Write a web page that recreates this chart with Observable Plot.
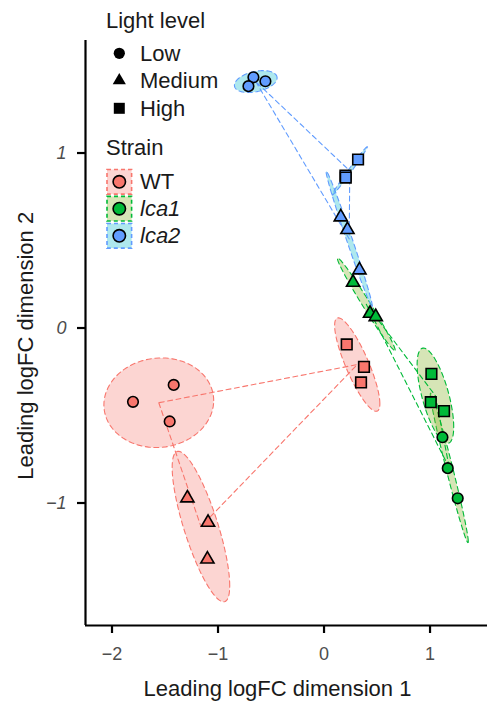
<!DOCTYPE html>
<html><head><meta charset="utf-8">
<script src="https://cdn.jsdelivr.net/npm/d3@7"></script>
<script src="https://cdn.jsdelivr.net/npm/@observablehq/plot@0.6"></script>
<style>
body{margin:0;background:#fff;}
#wrap{position:relative;width:487px;height:703px;font-family:"Liberation Sans",Arial,sans-serif;}
#wrap svg{position:absolute;left:0;top:0;}
</style></head><body><div id="wrap"></div>
<script>
// ---- data ----
const strains = ["WT", "lca1", "lca2"];
const lightLevels = ["Low", "Medium", "High"];
const sampleStrain = ["WT","WT","WT","WT","WT","WT","WT","WT","WT",
  "lca1","lca1","lca1","lca1","lca1","lca1","lca1","lca1","lca1",
  "lca2","lca2","lca2","lca2","lca2","lca2","lca2","lca2","lca2"];
const sampleLight = ["Low","Low","Low","Medium","Medium","Medium","High","High","High",
  "Low","Low","Low","Medium","Medium","Medium","High","High","High",
  "Low","Low","Low","Medium","Medium","Medium","High","High","High"];
const dim1 = [-1.802, -1.418, -1.456, -1.289, -1.094, -1.100, 0.214, 0.377, 0.349,
  1.117, 1.167, 1.261, 0.274, 0.434, 0.488, 1.013, 1.007, 1.132,
  -0.666, -0.553, -0.713, 0.158, 0.221, 0.334, 0.321, 0.202, 0.205];
const dim2 = [-0.422, -0.325, -0.534, -0.972, -1.111, -1.321, -0.094, -0.222, -0.311,
  -0.624, -0.801, -0.973, 0.260, 0.083, 0.064, -0.262, -0.424, -0.475,
  1.433, 1.410, 1.382, 0.634, 0.562, 0.331, 0.963, 0.871, 0.860];
const xTicks = [-2, -1, 0, 1];
const yTicks = [-1, 0, 1];
const xDomain = [-2.25, 1.542];
const yDomain = [-1.70, 1.643];
const xTitle = "Leading logFC dimension 1";
const yTitle = "Leading logFC dimension 2";
const lightTitle = "Light level";
const strainTitle = "Strain";

// ---- styles ----
const pointColor = {WT: "#F8766D", lca1: "#00BA38", lca2: "#619CFF"};
const ellipseFill = {WT: "#f5877f", lca1: "#8ab52e", lca2: "#18bdce"};
const ellipseOpacity = 0.35;
const shapeOf = {Low: "circle", Medium: "triangle", High: "square"};
const radiusOf = {Low: 5.3, Medium: 4.9, High: 6.0};

// ---- derived ----
const samples = dim1.map((x, i) => ({x, y: dim2[i], strain: sampleStrain[i], light: sampleLight[i]}));
const groups = [];
for (const s of strains) for (const l of lightLevels) {
  groups.push({strain: s, light: l, pts: samples.filter(d => d.strain === s && d.light === l)});
}
const kScale = Math.sqrt(-2 * Math.log(0.05)); // 95% normal ellipse (chi-square, 2 df)
const ellipseRows = [];
const centroids = [];
for (const g of groups) {
  const n = g.pts.length;
  const mx = d3.mean(g.pts, d => d.x), my = d3.mean(g.pts, d => d.y);
  centroids.push({strain: g.strain, light: g.light, x: mx, y: my});
  let sxx = 0, syy = 0, sxy = 0;
  for (const p of g.pts) { sxx += (p.x - mx) ** 2; syy += (p.y - my) ** 2; sxy += (p.x - mx) * (p.y - my); }
  sxx /= (n - 1); syy /= (n - 1); sxy /= (n - 1);
  const a = Math.sqrt(sxx), b = sxy / a, c = Math.sqrt(Math.max(syy - b * b, 0));
  for (let i = 0; i < 100; i++) {
    const t = 2 * Math.PI * i / 100, u = Math.cos(t), v = Math.sin(t);
    ellipseRows.push({strain: g.strain, group: g.strain + "-" + g.light,
      x: mx + kScale * a * u, y: my + kScale * (b * u + c * v)});
  }
}

const marks = [];
for (const s of strains) {
  marks.push(Plot.line(ellipseRows.filter(d => d.strain === s), {
    x: "x", y: "y", z: "group", curve: "linear-closed",
    fill: ellipseFill[s], fillOpacity: ellipseOpacity,
    stroke: pointColor[s], strokeWidth: 1.1, strokeDasharray: "5,3.5"
  }));
}
for (const s of strains) {
  marks.push(Plot.line(centroids.filter(d => d.strain === s), {
    x: "x", y: "y", curve: "linear-closed",
    stroke: pointColor[s], strokeWidth: 1.1, strokeDasharray: "5,3.5"
  }));
}
for (const l of lightLevels) {
  marks.push(Plot.dot(samples.filter(d => d.light === l), {
    x: "x", y: "y", symbol: shapeOf[l], r: radiusOf[l],
    fill: d => pointColor[d.strain], stroke: "black", strokeWidth: 1.6
  }));
}
marks.push(Plot.ruleX([xDomain[0]], {stroke: "black", strokeWidth: 2.2}));
marks.push(Plot.ruleY([yDomain[0]], {stroke: "black", strokeWidth: 2.2}));
marks.push(Plot.axisX(xTicks, {tickSize: 8, tickPadding: 14, fontSize: 18, strokeWidth: 2.2, stroke: "black", fill: "#4d4d4d", label: null, tickFormat: "~f"}));
marks.push(Plot.axisY(yTicks, {tickSize: 8, tickPadding: 11, fontSize: 18, fontStyle: "italic", strokeWidth: 2.2, stroke: "black", fill: "#4d4d4d", label: null, tickFormat: "~f"}));

const chart = Plot.plot({
  width: 487, height: 703,
  marginLeft: 85, marginRight: 0, marginTop: 40, marginBottom: 78,
  style: {fontFamily: "'Liberation Sans', Arial, sans-serif", background: "white", overflow: "visible"},
  x: {domain: xDomain},
  y: {domain: yDomain},
  marks
});
document.getElementById("wrap").appendChild(chart);

// ---- legend and axis titles overlay ----
const ov = d3.select("#wrap").append("svg").attr("width", 487).attr("height", 703)
  .style("font-family", "'Liberation Sans', Arial, sans-serif").style("pointer-events", "none");
const txtCol = "#1a1a1a";
ov.append("text").attr("x", 277.5).attr("y", 696).attr("text-anchor", "middle")
  .attr("font-size", 22).attr("fill", txtCol).text(xTitle);
ov.append("text").attr("transform", "translate(33.3,345.8) rotate(-90)").attr("text-anchor", "middle")
  .attr("font-size", 22).attr("fill", txtCol).text(yTitle);

ov.append("text").attr("x", 106).attr("y", 27.5).attr("font-size", 22).attr("fill", txtCol).text(lightTitle);
const lightY = [53.3, 80.5, 108.3];
const legendSym = {circle: d3.symbolCircle, triangle: d3.symbolTriangle, square: d3.symbolSquare};
const legendSize = {Low: Math.PI * 5.6 * 5.6, Medium: 75, High: 121};
lightLevels.forEach((l, i) => {
  ov.append("path").attr("transform", `translate(119.3,${lightY[i]})`)
    .attr("d", d3.symbol(legendSym[shapeOf[l]], legendSize[l])()).attr("fill", "black");
  ov.append("text").attr("x", 140).attr("y", lightY[i] + 7.6).attr("font-size", 22).attr("fill", txtCol).text(l);
});
ov.append("text").attr("x", 106).attr("y", 155.3).attr("font-size", 22).attr("fill", txtCol).text(strainTitle);
const strainY = [181.8, 208.7, 235.8];
strains.forEach((s, i) => {
  ov.append("rect").attr("x", 107).attr("y", strainY[i] - 12.3).attr("width", 24.6).attr("height", 24.6)
    .attr("fill", ellipseFill[s]).attr("fill-opacity", ellipseOpacity)
    .attr("stroke", pointColor[s]).attr("stroke-width", 1.6).attr("stroke-dasharray", "4,3");
  ov.append("circle").attr("cx", 119.3).attr("cy", strainY[i]).attr("r", 6.2)
    .attr("fill", pointColor[s]).attr("stroke", "black").attr("stroke-width", 1.6);
  ov.append("text").attr("x", 140).attr("y", strainY[i] + 7.4).attr("font-size", 22)
    .attr("font-style", s === "WT" ? "normal" : "italic").attr("fill", txtCol).text(s);
});
</script></body></html>
